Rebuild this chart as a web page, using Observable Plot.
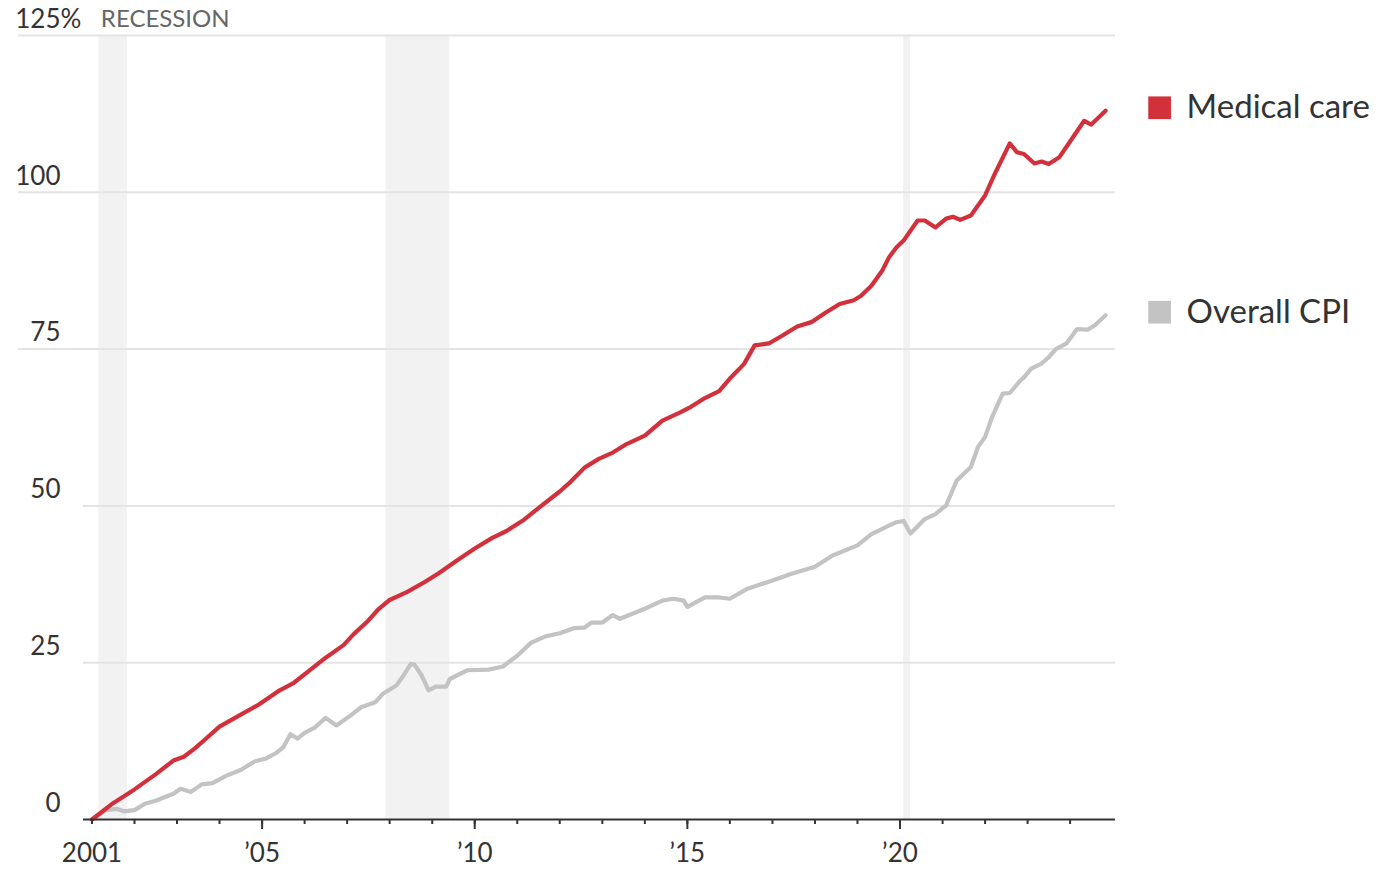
<!DOCTYPE html>
<html><head><meta charset="utf-8">
<script src="https://cdn.jsdelivr.net/npm/d3@7"></script>
<script src="https://cdn.jsdelivr.net/npm/@observablehq/plot@0.6"></script>
<style>
html,body{margin:0;padding:0;background:#fff;}
#chart svg{display:block;}
</style></head><body><div id="chart"></div>
<script>
// Cumulative % change since January 2001
const medDates = ["2001-01","2001-07","2002-01","2002-07","2002-12","2003-03","2003-06","2003-09","2004-01","2004-06","2004-12","2005-06","2005-10","2006-03","2006-07","2006-12","2007-03","2007-07","2007-10","2008-01","2008-06","2008-11","2009-03","2009-08","2010-01","2010-06","2010-10","2011-03","2011-08","2012-01","2012-04","2012-08","2012-12","2013-04","2013-08","2014-01","2014-06","2014-11","2015-02","2015-06","2015-10","2016-01","2016-05","2016-08","2016-12","2017-04","2017-08","2017-12","2018-04","2018-08","2018-12","2019-02","2019-05","2019-08","2019-10","2019-12","2020-02","2020-06","2020-08","2020-11","2021-02","2021-04","2021-06","2021-09","2022-01","2022-04","2022-08","2022-10","2022-12","2023-03","2023-05","2023-07","2023-10","2024-01","2024-05","2024-07","2024-11"];
const medValues = [0,2.6,4.8,7.2,9.4,10.0,11.3,12.8,14.8,16.4,18.3,20.6,21.8,24.0,25.8,27.8,29.6,31.7,33.6,35.0,36.3,37.9,39.3,41.3,43.2,44.9,46.0,47.8,50.1,52.3,53.8,56.1,57.5,58.5,59.9,61.2,63.6,64.9,65.8,67.2,68.3,70.3,72.6,75.6,75.9,77.2,78.6,79.3,80.8,82.2,82.8,83.5,85.1,87.5,89.7,91.2,92.3,95.5,95.5,94.4,95.8,96.1,95.6,96.3,99.5,103.2,107.8,106.4,106.1,104.6,104.9,104.5,105.6,108.1,111.4,110.8,113.0];

const cpiDates = ["2001-01","2001-05","2001-08","2001-10","2002-01","2002-04","2002-07","2002-12","2003-02","2003-05","2003-08","2003-11","2004-03","2004-07","2004-11","2005-02","2005-05","2005-07","2005-09","2005-11","2006-01","2006-04","2006-07","2006-10","2007-02","2007-05","2007-09","2007-11","2008-03","2008-05","2008-07","2008-08","2008-10","2008-12","2009-02","2009-05","2009-06","2009-11","2010-05","2010-09","2011-01","2011-05","2011-09","2012-01","2012-05","2012-08","2012-10","2013-01","2013-04","2013-06","2014-01","2014-06","2014-09","2014-12","2015-01","2015-06","2015-10","2016-01","2016-06","2017-01","2017-06","2018-01","2018-06","2019-01","2019-05","2019-09","2019-12","2020-02","2020-04","2020-08","2020-11","2021-02","2021-05","2021-09","2021-11","2022-01","2022-03","2022-06","2022-08","2022-11","2022-12","2023-02","2023-05","2023-07","2023-09","2023-12","2024-03","2024-06","2024-08","2024-11"];
const cpiValues = [0,1.5,1.7,1.3,1.5,2.5,3.0,4.1,4.9,4.4,5.6,5.8,7.0,7.9,9.3,9.7,10.6,11.5,13.6,12.9,13.8,14.7,16.2,15.0,16.6,17.9,18.7,20.0,21.4,23.0,24.8,24.7,23.0,20.6,21.2,21.2,22.4,23.8,23.9,24.4,26.1,28.2,29.2,29.7,30.5,30.6,31.4,31.4,32.6,32.0,33.6,34.9,35.2,34.9,33.9,35.4,35.4,35.2,36.8,38.1,39.1,40.3,42.1,43.7,45.5,46.6,47.4,47.6,45.6,47.9,48.7,50.1,54.0,56.2,59.4,61.0,64.1,67.9,68.0,70.0,70.5,71.9,72.7,73.7,75.0,75.9,78.2,78.1,78.8,80.4];

const seriesNames = ["Medical care", "Overall CPI"];
const seriesColors = ["#d2303b", "#c3c3c3"];

const recessionStarts = ["2001-03","2007-12","2020-02"];
const recessionEnds = ["2001-11","2009-06","2020-04"];

const yTickValues = [0,25,50,75,100,125];
const yGridShort = [25,50];
const yGridLong = [75,100,125];

const minorYears = [2001,2002,2003,2004,2005,2006,2007,2008,2009,2010,2011,2012,2013,2014,2015,2016,2017,2018,2019,2020,2021,2022,2023,2024];
const majorYears = [2005,2010,2015,2020];
const labelYears = [2001,2005,2010,2015,2020];
const labelTexts = ["2001","\u201905","\u201910","\u201915","\u201920"];

const parse = d3.utcParse("%Y-%m");
const yr = y => new Date(Date.UTC(y,0,1));

const rows = [];
medDates.forEach((d,i) => rows.push({series: seriesNames[0], date: parse(d), value: medValues[i]}));
cpiDates.forEach((d,i) => rows.push({series: seriesNames[1], date: parse(d), value: cpiValues[i]}));
const lastPoints = seriesNames.map(s => rows.filter(r => r.series === s).at(-1));
const recessions = recessionStarts.map((s,i) => ({start: parse(s), end: parse(recessionEnds[i])}));
const yearLabel = new Map(labelYears.map((y,i) => [+yr(y), labelTexts[i]]));

const chart = Plot.plot({
  width: 1378,
  height: 869,
  marginLeft: 83,
  marginRight: 263,
  marginTop: 35,
  marginBottom: 50,
  style: {fontFamily: "Lato, 'Noto Sans', sans-serif", fontSize: "26px", color: "#333", background: "#fff", overflow: "visible"},
  x: {type: "utc", domain: [new Date(Date.UTC(2000,9,20)), new Date(Date.UTC(2025,0,25))]},
  y: {domain: [0,125]},
  color: {domain: seriesNames, range: seriesColors},
  marks: [
    Plot.rect(recessions, {x1: "start", x2: "end", fill: "#f2f2f2"}),
    Plot.ruleY(yGridShort, {stroke: "#e4e4e4", strokeWidth: 2}),
    Plot.ruleY(yGridLong, {stroke: "#e4e4e4", strokeWidth: 2, insetLeft: -65}),
    Plot.axisY({ticks: yTickValues, tickSize: 0, tickPadding: 23, dy: -16, fontSize: 26, tickFormat: d => String(d), label: null}),
    Plot.text([125], {y: d => d, text: () => "%", frameAnchor: "left", dx: -23, dy: -16, textAnchor: "start", fontSize: 26, fill: "#333"}),
    Plot.text([recessions[0]], {x: "start", y: () => 125, text: () => "RECESSION", dx: 2, dy: -16, textAnchor: "start", fontSize: 24, fill: "#666"}),
    Plot.line(rows.filter(r => r.series === seriesNames[1]), {x: "date", y: "value", stroke: seriesColors[1], strokeWidth: 4.2, strokeLinejoin: "round", strokeLinecap: "round"}),
    Plot.line(rows.filter(r => r.series === seriesNames[0]), {x: "date", y: "value", stroke: seriesColors[0], strokeWidth: 4.2, strokeLinejoin: "round", strokeLinecap: "round"}),
    Plot.ruleY([0], {stroke: "#333", strokeWidth: 2}),
    Plot.axisX({ticks: minorYears.map(yr), tickSize: 5, tickFormat: () => "", stroke: "#333", strokeWidth: 2, label: null}),
    Plot.axisX({ticks: majorYears.map(yr), tickSize: 10, tickFormat: () => "", stroke: "#333", strokeWidth: 2, label: null}),
    Plot.axisX({ticks: labelYears.map(yr), tickSize: 0, tickPadding: 24, tickFormat: d => yearLabel.get(+d), fontSize: 26, label: null}),
    Plot.dot(lastPoints, {x: "date", y: "value", fill: "series", symbol: "square", r: 12.8, dx: 54, dy: -3, stroke: null}),
    Plot.text(lastPoints, {x: "date", y: "value", text: "series", dx: 81, dy: -3, textAnchor: "start", fontSize: 33, fill: "#333"})
  ]
});
document.getElementById("chart").appendChild(chart);
</script>
</body></html>
